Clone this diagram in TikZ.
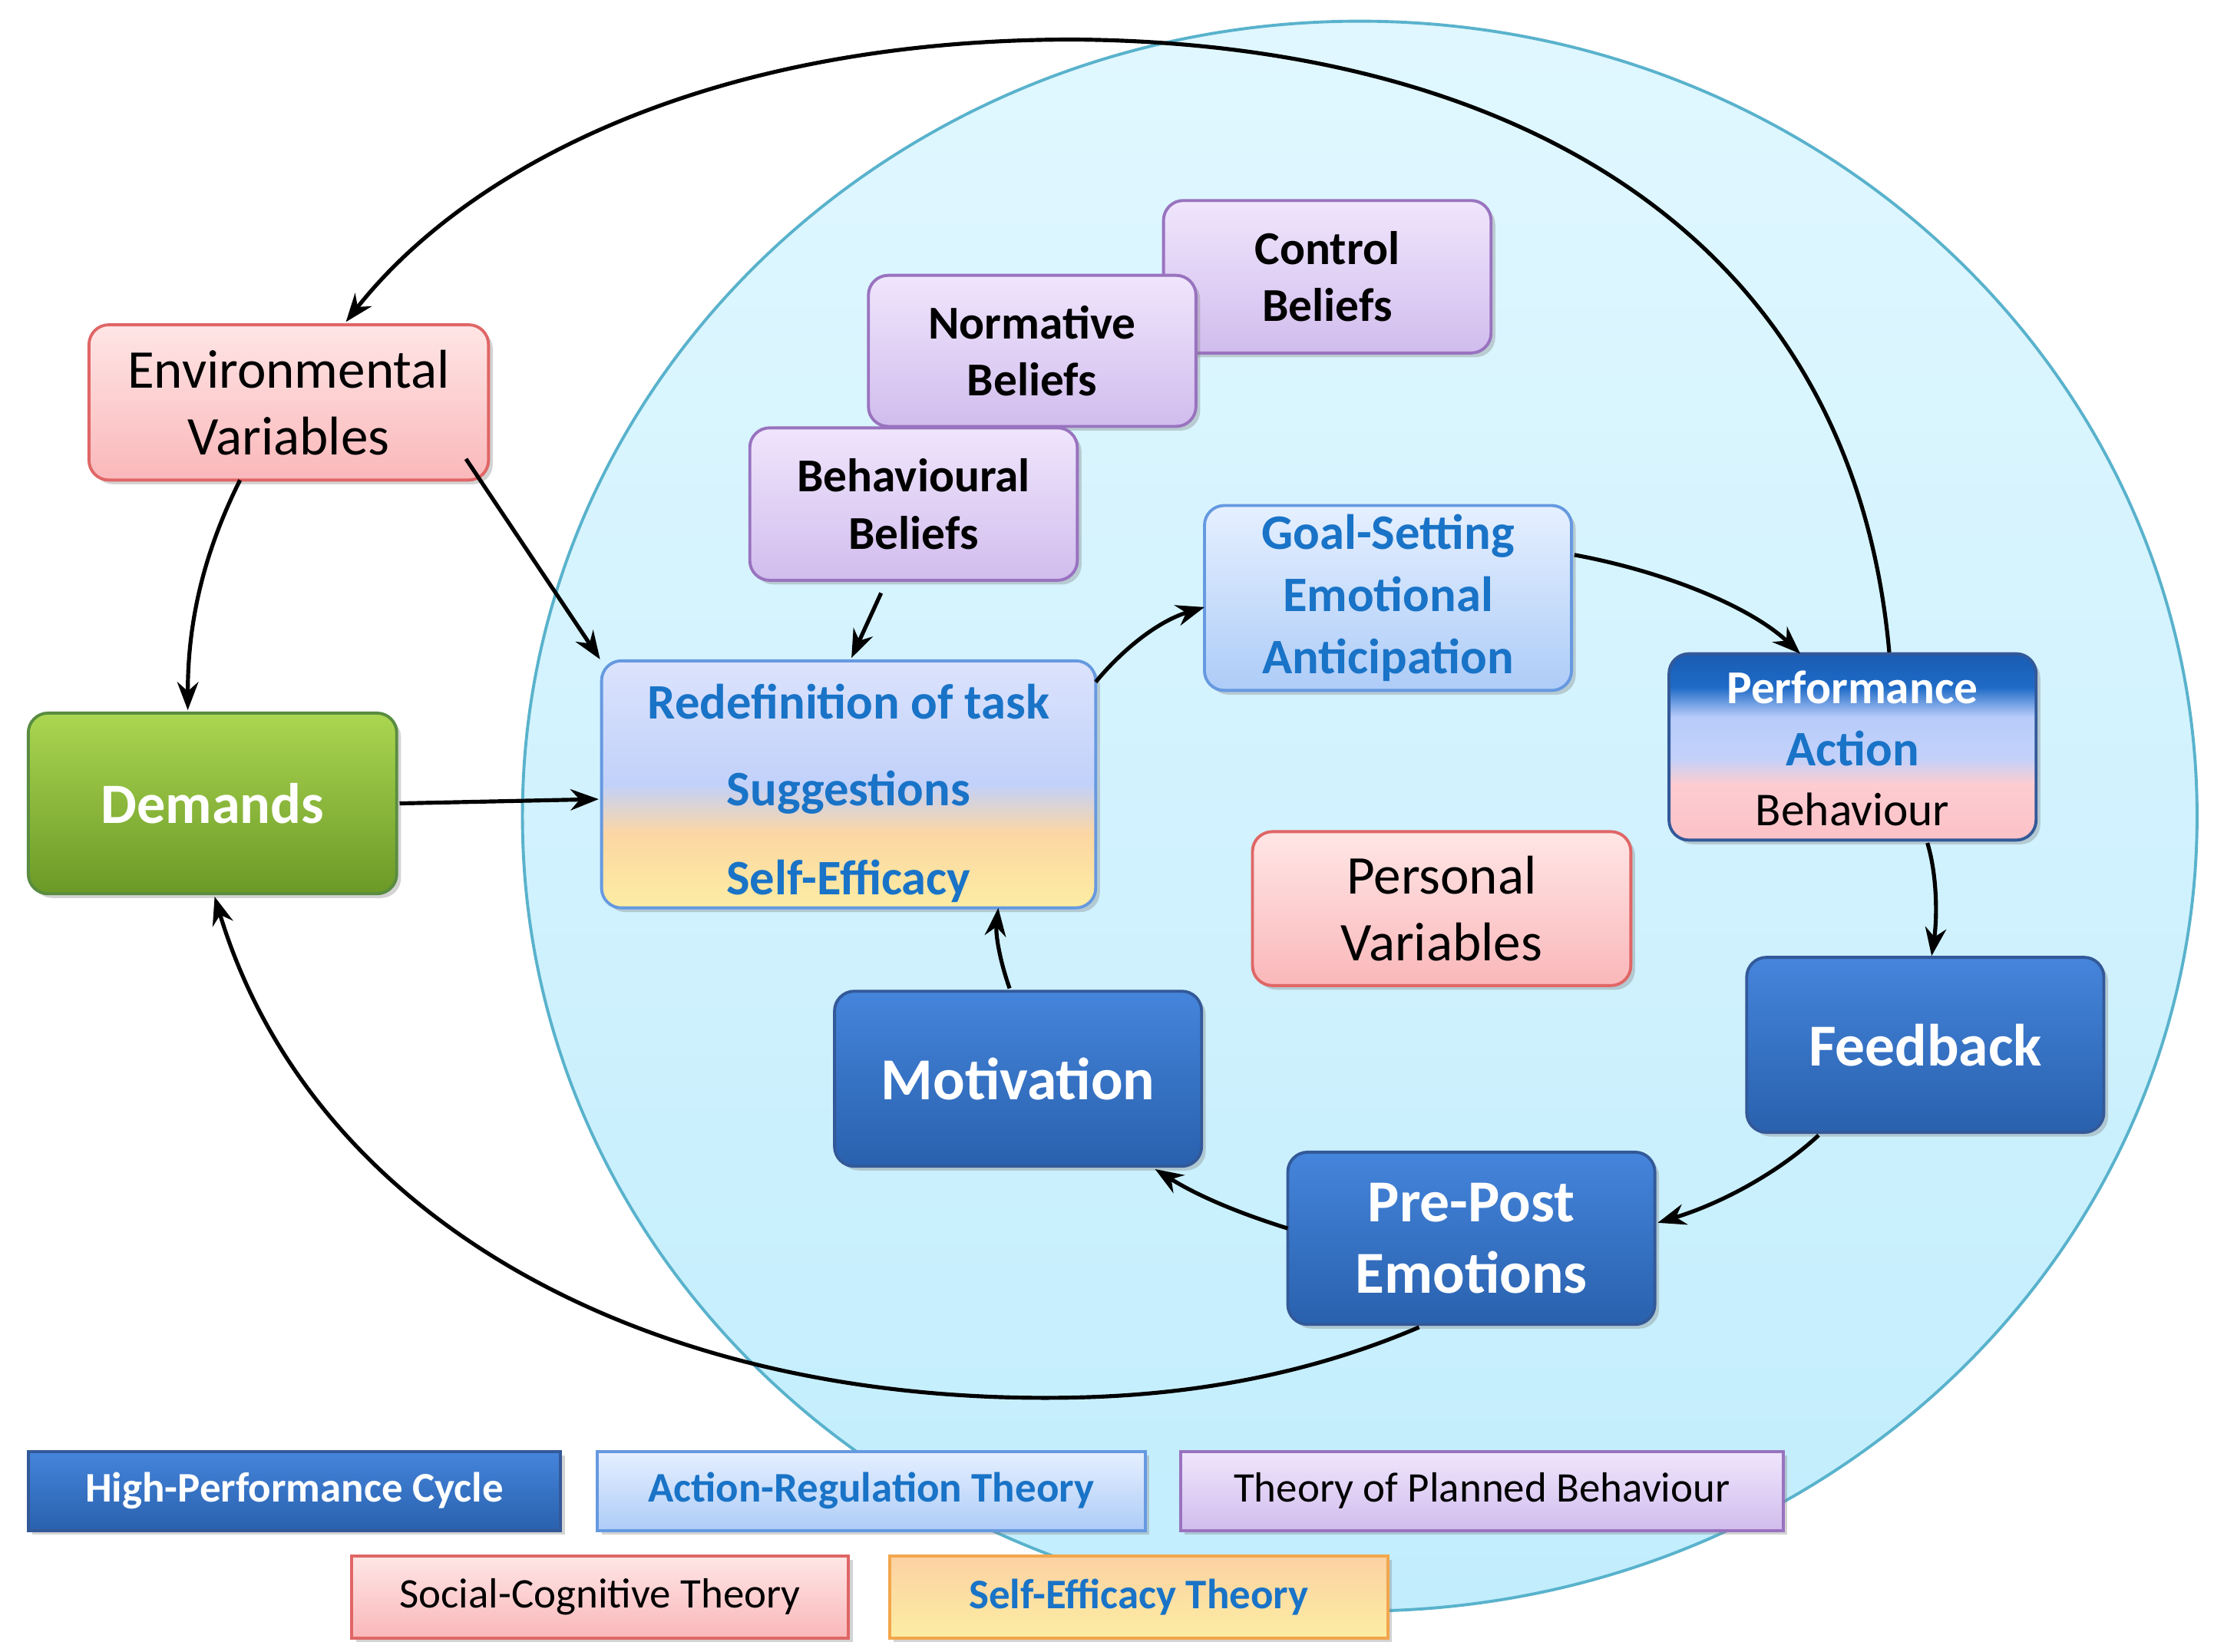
\documentclass[tikz,border=0pt]{standalone}
\usepackage{fontspec}
\setmainfont{Carlito}
\usetikzlibrary{arrows.meta,shadows}
\definecolor{dkb}{rgb}{0.2,0.35,0.6}
\definecolor{bluetxt}{rgb}{0.1,0.45,0.78}
\pgfdeclareverticalshading{redefsh}{100bp}{rgb(0bp)=(0.99,0.93,0.64); rgb(25bp)=(0.99,0.93,0.64); rgb(40bp)=(0.99,0.84,0.64); rgb(50bp)=(0.76,0.82,0.98); rgb(75bp)=(0.86,0.89,0.99); rgb(100bp)=(0.86,0.89,0.99)}
\pgfdeclareverticalshading{perfsh}{100bp}{rgb(0bp)=(0.99,0.76,0.78); rgb(25bp)=(0.99,0.76,0.78); rgb(40bp)=(0.99,0.8,0.82); rgb(47bp)=(0.76,0.82,0.98); rgb(58bp)=(0.72,0.8,0.98); rgb(66bp)=(0.12,0.42,0.78); rgb(75bp)=(0.1,0.36,0.7); rgb(100bp)=(0.1,0.36,0.7)}
\tikzset{
 box/.style={rounded corners=0.28cm, line width=1.2pt, drop shadow={opacity=0.35,shadow xshift=0.06cm,shadow yshift=-0.06cm}, align=center},
 dark/.style={box, draw=dkb, top color={rgb,1:red,0.27;green,0.52;blue,0.86}, bottom color={rgb,1:red,0.16;green,0.38;blue,0.68}, text=white, font=\bfseries\fontsize{24}{29}\selectfont},
 pink/.style={box, draw={rgb,1:red,0.88;green,0.4;blue,0.4}, top color={rgb,1:red,1;green,0.9;blue,0.9}, bottom color={rgb,1:red,0.98;green,0.72;blue,0.73}, font=\fontsize{22}{27}\selectfont},
 purp/.style={box, draw={rgb,1:red,0.6;green,0.45;blue,0.75}, top color={rgb,1:red,0.94;green,0.9;blue,0.99}, bottom color={rgb,1:red,0.82;green,0.74;blue,0.93}, font=\bfseries\fontsize{19}{23}\selectfont},
 lblue/.style={box, draw={rgb,1:red,0.4;green,0.6;blue,0.88}, top color={rgb,1:red,0.9;green,0.94;blue,1}, bottom color={rgb,1:red,0.68;green,0.8;blue,0.97}, text=bluetxt, font=\bfseries\fontsize{19}{24}\selectfont},
 green/.style={box, draw={rgb,1:red,0.35;green,0.55;blue,0.25}, top color={rgb,1:red,0.67;green,0.84;blue,0.32}, bottom color={rgb,1:red,0.42;green,0.6;blue,0.15}, text=white, font=\bfseries\fontsize{23}{28}\selectfont},
 leg/.style={rounded corners=0pt, line width=1.2pt, drop shadow={opacity=0.35,shadow xshift=0.06cm,shadow yshift=-0.06cm}, minimum height=1.12cm, font=\fontsize{17}{20}\selectfont},
 arr/.style={-{Stealth[length=0.4cm,width=0.3cm]}, line width=1.6pt, black},
 txt/.style={font=\bfseries\fontsize{20}{24}\selectfont, text=bluetxt},
}
\begin{document}
\begin{tikzpicture}[x=0.02cm,y=-0.02cm]
\useasboundingbox (0,0) rectangle (1568,1170);
\fill[top color={rgb,1:red,0.88;green,0.97;blue,1}, bottom color={rgb,1:red,0.76;green,0.93;blue,0.99}, draw={rgb,1:red,0.35;green,0.7;blue,0.8}, line width=1.2pt] (963,578) ellipse [x radius=593, y radius=563];

\node[pink, minimum width=5.66cm, minimum height=2.2cm] (env) at (204.5,285) {Environmental\\Variables};
\node[green, minimum width=5.22cm, minimum height=2.56cm] (dem) at (150.5,569) {Demands};
\node[box, draw={rgb,1:red,0.4;green,0.6;blue,0.88}, shading=redefsh, minimum width=7cm, minimum height=3.5cm] (redef) at (601,555.5) {};
\node[txt] (r1) at (601,497) {Redefinition of task};
\node[txt] (r2) at (601,561) {Suggestions};
\node[txt] (r3) at (601,624) {Self-Efficacy};
\node[purp, minimum width=4.64cm, minimum height=2.16cm] (con) at (940,196) {Control\\Beliefs};
\node[purp, minimum width=4.64cm, minimum height=2.14cm] (nor) at (731,248.5) {Normative\\Beliefs};
\node[purp, minimum width=4.64cm, minimum height=2.16cm] (beh) at (647,357) {Behavioural\\Beliefs};
\node[lblue, minimum width=5.2cm, minimum height=2.62cm, font=\bfseries\fontsize{20}{25}\selectfont] (goal) at (983,423.5) {Goal-Setting\\Emotional\\Anticipation};
\node[box, draw=dkb, shading=perfsh, minimum width=5.2cm, minimum height=2.64cm] (perf) at (1312,529) {};
\node[font=\bfseries\fontsize{19}{24}\selectfont, text=white] (p1) at (1312,487) {Performance};
\node[txt] (p2) at (1312,530) {Action};
\node[font=\fontsize{19}{24}\selectfont] (p3) at (1312,573) {Behaviour};
\node[pink, minimum width=5.36cm, minimum height=2.18cm] (pers) at (1021,643.5) {Personal\\Variables};
\node[dark, minimum width=5.06cm, minimum height=2.48cm] (fb) at (1363.5,740) {Feedback};
\node[dark, minimum width=5.2cm, minimum height=2.44cm] (pre) at (1042,877) {Pre-Post\\Emotions};
\node[dark, minimum width=5.2cm, minimum height=2.48cm] (mot) at (721,764) {Motivation};

\node[leg, draw=dkb, top color={rgb,1:red,0.27;green,0.52;blue,0.86}, bottom color={rgb,1:red,0.16;green,0.38;blue,0.68}, text=white, font=\bfseries\fontsize{17}{20}\selectfont, minimum width=7.54cm] (l1) at (208.5,1056) {High-Performance Cycle};
\node[leg, draw={rgb,1:red,0.4;green,0.6;blue,0.88}, top color={rgb,1:red,0.9;green,0.94;blue,1}, bottom color={rgb,1:red,0.68;green,0.8;blue,0.97}, text=bluetxt, font=\bfseries\fontsize{17}{20}\selectfont, minimum width=7.76cm] (l2) at (617,1056) {Action-Regulation Theory};
\node[leg, draw={rgb,1:red,0.6;green,0.45;blue,0.75}, top color={rgb,1:red,0.94;green,0.9;blue,0.99}, bottom color={rgb,1:red,0.82;green,0.74;blue,0.93}, minimum width=8.54cm] (l3) at (1049.5,1056) {Theory of Planned Behaviour};
\node[leg, draw={rgb,1:red,0.88;green,0.4;blue,0.4}, top color={rgb,1:red,1;green,0.9;blue,0.9}, bottom color={rgb,1:red,0.98;green,0.72;blue,0.73}, minimum width=7.04cm, minimum height=1.16cm] (l4) at (425,1131) {Social-Cognitive Theory};
\node[leg, draw={rgb,1:red,0.95;green,0.65;blue,0.3}, top color={rgb,1:red,0.99;green,0.82;blue,0.64}, bottom color={rgb,1:red,0.99;green,0.93;blue,0.64}, text=bluetxt, font=\bfseries\fontsize{17}{20}\selectfont, minimum width=7.06cm, minimum height=1.16cm] (l5) at (806.5,1131) {Self-Efficacy Theory};

\coordinate (pt) at (1338,462);
\coordinate (et) at (245,228);
\coordinate (pb) at (1005,940);
\coordinate (db) at (152,635);
\coordinate (dt) at (133,503);
\coordinate (rw) at (424,566);
\draw[arr] (pt) .. controls (1310,150) and (1050,30) .. (760,28) .. controls (500,28) and (330,120) .. (et);
\draw[arr] (pb) .. controls (900,985) and (800,990) .. (740,990) .. controls (450,990) and (220,860) .. (db);
\draw[arr] (170,340) .. controls (140,400) and (133,450) .. (dt);
\draw[arr] (330,325) -- (redef.north west);
\draw[arr] (624,420) -- (603,466);
\draw[arr] (283,569) -- (rw);
\draw[arr] (776,483) .. controls (795,460) and (820,440) .. (853,430);
\draw[arr] (1115,393) .. controls (1180,405) and (1240,430) .. (1275,463);
\draw[arr] (1365,597) .. controls (1372,620) and (1372,650) .. (1368,677);
\draw[arr] (1288,804) .. controls (1260,830) and (1220,852) .. (1174,866);
\draw[arr] (912,870) .. controls (880,860) and (850,848) .. (818,828);
\draw[arr] (715,700) .. controls (708,680) and (705,662) .. (707,643);
\end{tikzpicture}
\end{document}
